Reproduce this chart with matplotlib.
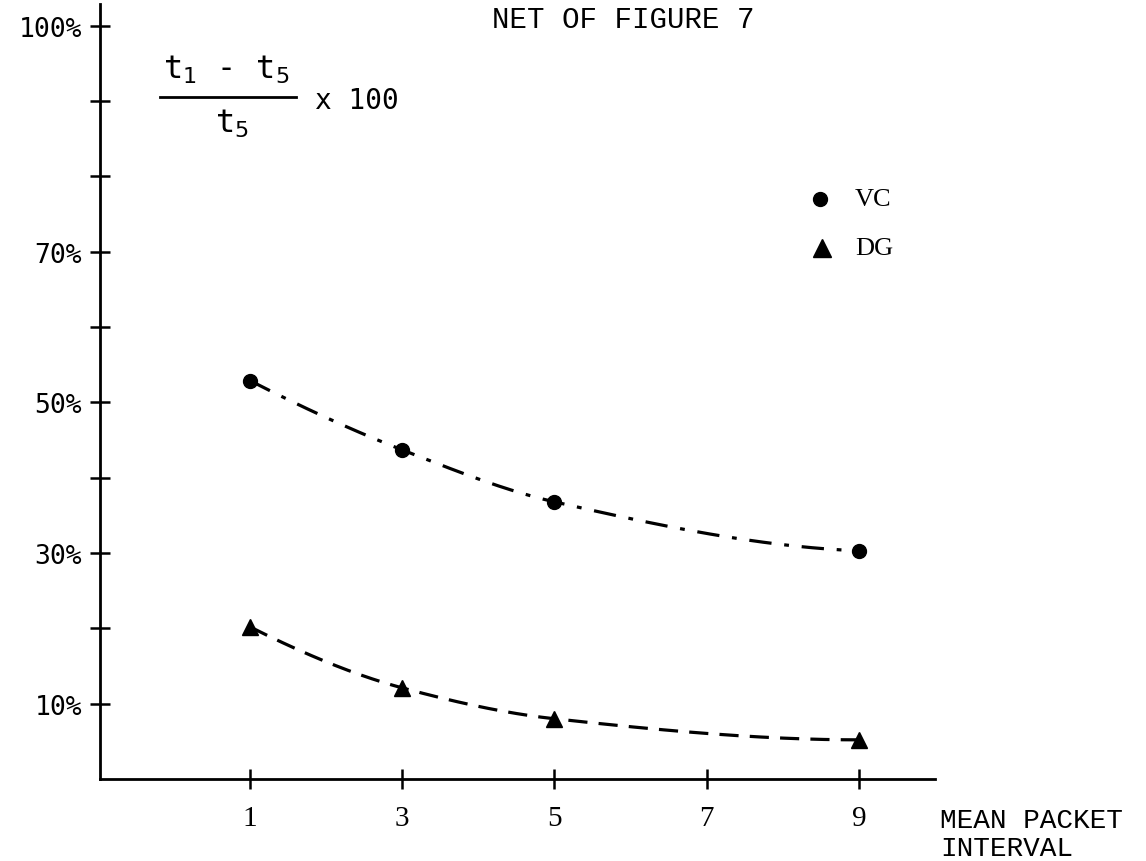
import numpy as np
import matplotlib
matplotlib.use("Agg")
import matplotlib.pyplot as plt
from matplotlib.lines import Line2D

# ---- data ----
x_vals = [1, 3, 5, 9]
vc_vals = [52.9, 43.7, 36.8, 30.3]
dg_vals = [20.2, 12.1, 8.0, 5.2]
x_ticks = [1, 3, 5, 7, 9]
y_ticks = [10, 20, 30, 40, 50, 60, 70, 80, 90, 100]
y_tick_labels = {10: "10%", 30: "30%", 50: "50%", 70: "70%", 100: "100%"}


def pchip(x, y, xs):
    x = np.asarray(x, float); y = np.asarray(y, float)
    h = np.diff(x); d = np.diff(y) / h
    m = np.zeros_like(y)
    for k in range(1, len(x) - 1):
        if d[k - 1] * d[k] > 0:
            w1 = 2 * h[k] + h[k - 1]; w2 = h[k] + 2 * h[k - 1]
            m[k] = (w1 + w2) / (w1 / d[k - 1] + w2 / d[k])
    m[0] = ((2 * h[0] + h[1]) * d[0] - h[0] * d[1]) / (h[0] + h[1])
    if np.sign(m[0]) != np.sign(d[0]): m[0] = 0
    m[-1] = ((2 * h[-1] + h[-2]) * d[-1] - h[-1] * d[-2]) / (h[-1] + h[-2])
    if np.sign(m[-1]) != np.sign(d[-1]): m[-1] = 0
    out = np.empty_like(xs)
    for i, xv in enumerate(xs):
        k = min(max(np.searchsorted(x, xv) - 1, 0), len(x) - 2)
        t = (xv - x[k]) / h[k]
        h00 = 2 * t**3 - 3 * t**2 + 1; h10 = t**3 - 2 * t**2 + t
        h01 = -2 * t**3 + 3 * t**2; h11 = t**3 - t**2
        out[i] = h00 * y[k] + h10 * h[k] * m[k] + h01 * y[k + 1] + h11 * h[k] * m[k + 1]
    return out


fig = plt.figure(figsize=(11.46, 8.62), dpi=100)
W, H = 1146, 862
ax = fig.add_axes([100 / W, 82 / H, 835 / W, 775 / H])
ax.set_xlim(-0.97, 10.0)
ax.set_ylim(0, 102.9)

xs = np.linspace(min(x_vals), max(x_vals), 300)
ax.plot(xs, pchip(x_vals, vc_vals, xs), color="black", lw=2.3,
        dashes=(7, 4, 1.5, 4))
ax.plot(xs, pchip(x_vals, dg_vals, xs), color="black", lw=2.3,
        dashes=(6, 3.5))
ax.plot(x_vals, vc_vals, "o", color="black", ms=10, ls="none")
ax.plot(x_vals, dg_vals, "^", color="black", ms=12, ls="none")

for s in ["top", "right"]:
    ax.spines[s].set_visible(False)
for s in ["left", "bottom"]:
    ax.spines[s].set_linewidth(2.0)

ax.set_yticks(y_ticks)
ax.set_yticklabels([y_tick_labels.get(v, "") for v in y_ticks],
                   family="DejaVu Sans Mono", fontsize=19)
ax.set_xticks(x_ticks)
ax.set_xticklabels([str(v) for v in x_ticks], family="Liberation Serif",
                   fontsize=21)
ax.tick_params(axis="both", direction="inout", length=14, width=1.8)
ax.tick_params(axis="y", pad=6)
ax.tick_params(axis="x", pad=12)

# title
fig.text(623 / W, 1 - 20 / H, "NET OF FIGURE 7", family="Liberation Mono",
         fontsize=21, ha="center", va="center")

# formula
fig.text(226 / W, 1 - 70 / H, r"t$_1$ - t$_5$", family="DejaVu Sans Mono",
         fontsize=23, ha="center", va="center")
fig.add_artist(Line2D([160 / W, 296 / W], [1 - 98 / H, 1 - 98 / H],
                      color="black", lw=2.0, transform=fig.transFigure))
fig.text(232 / W, 1 - 124 / H, r"t$_5$", family="DejaVu Sans Mono",
         fontsize=23, ha="center", va="center")
fig.text(315 / W, 1 - 101 / H, "x 100", family="DejaVu Sans Mono",
         fontsize=20, ha="left", va="center")

# legend
fig.add_artist(Line2D([820 / W], [1 - 200 / H], marker="o", ms=10,
                      color="black", ls="none", transform=fig.transFigure))
fig.text(855 / W, 1 - 200 / H, "VC", family="Liberation Serif",
         fontsize=19, ha="left", va="center")
fig.add_artist(Line2D([822 / W], [1 - 249 / H], marker="^", ms=13,
                      color="black", ls="none", transform=fig.transFigure))
fig.text(855 / W, 1 - 249 / H, "DG", family="Liberation Serif",
         fontsize=19, ha="left", va="center")

# x axis label
fig.text(940 / W, 1 - 821 / H, "MEAN PACKET", family="Liberation Mono",
         fontsize=20, ha="left", va="center")
fig.text(940 / W, 1 - 849 / H, "INTERVAL", family="Liberation Mono",
         fontsize=20, ha="left", va="center")

fig.savefig("out.png", dpi=100, facecolor="white")
